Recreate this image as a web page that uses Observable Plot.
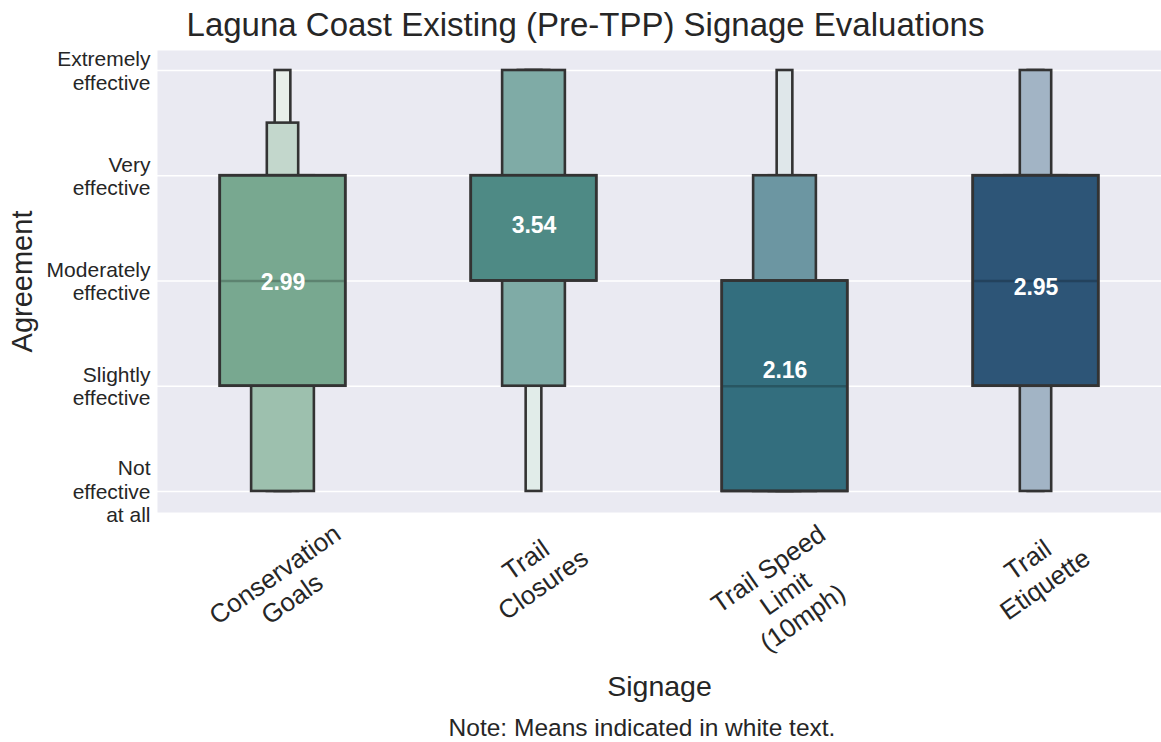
<!DOCTYPE html>
<html><head><meta charset="utf-8">
<script src="https://cdn.jsdelivr.net/npm/d3@7"></script>
<script src="https://cdn.jsdelivr.net/npm/@observablehq/plot@0.6"></script>
<style>
body{margin:0;background:#fff;font-family:"Liberation Sans",Arial,sans-serif;color:#262626;}
#wrap{position:relative;width:1161px;height:742px;overflow:hidden;}
#title{height:50px;line-height:50px;font-size:33px;text-align:center;padding-left:10px;box-sizing:border-box;white-space:nowrap;}
#chart svg{display:block;}
#caption{position:absolute;left:0;top:714px;width:1161px;padding-left:123px;box-sizing:border-box;text-align:center;font-size:24.5px;line-height:28px;white-space:nowrap;}
</style></head><body>
<div id="wrap">
<div id="title">Laguna Coast Existing (Pre-TPP) Signage Evaluations</div>
<div id="chart"></div>
<div id="caption">Note: Means indicated in white text.</div>
</div>
<script>
// ---- data ----
const signage = ["Conservation Goals", "Trail Closures", "Trail Speed Limit (10mph)", "Trail Etiquette"];
const signageLabels = ["Conservation\nGoals", "Trail\nClosures", "Trail Speed\nLimit\n(10mph)", "Trail\nEtiquette"];
const agreementTicks = [1, 2, 3, 4, 5];
const agreementLabels = ["Not\neffective\nat all", "Slightly\neffective", "Moderately\neffective", "Very\neffective", "Extremely\neffective"];
const means = [2.99, 3.54, 2.16, 2.95];
const medians = [3, 4, 2, 3];
// letter values per level (level 1 = quartiles, then 1/8, 1/16, 1/32 ...)
const lvLower = [[2, 1, 1, 1], [3, 2, 2, 1], [1, 1, 1, 1], [2, 2, 1, 1]];
const lvUpper = [[4, 4, 4.5, 5], [4, 5, 5, 5], [3, 4, 4, 5], [4, 4, 5, 5]];

// ---- styles ----
const baseColors = ["#78a890", "#4e8a85", "#336e7e", "#2d5577"];
const lightColors = ["#e8efea", "#e1ece9", "#dfe7ea", "#dde4ec"];
const textColor = "#262626";
const edgeColor = "#333333";

const W = 1161, H = 664, mL = 157, mR = 0, mT = 0, mB = 202;
const bw = (W - mL - mR) / signage.length;
const nLevels = 4;
const fullWidth = bw * 0.5;

const boxes = [];
signage.forEach((s, i) => lvLower[i].forEach((lo, k) => boxes.push({
  signage: s, level: k + 1, lower: lo, upper: lvUpper[i][k],
  color: d3.interpolateRgb(baseColors[i], lightColors[i])(k / (nLevels - 1))
})));
const insetFor = level => (bw - fullWidth / 2 ** (level - 1)) / 2;

const levelMarks = d3.range(nLevels, 0, -1).map(level => {
  const inset = insetFor(level);
  return Plot.barY(boxes.filter(d => d.level === level), {
    x: "signage", y1: "lower", y2: "upper", fill: "color",
    stroke: edgeColor, strokeWidth: 2.6, insetLeft: inset, insetRight: inset
  });
});

const stats = signage.map((s, i) => ({signage: s, mean: means[i], median: medians[i], i}));

const medianMark = Plot.tickY(stats, {
  x: "signage", y: "median", strokeWidth: 2.4,
  stroke: d => d3.color(baseColors[d.i]).darker(0.7).formatHex(),
  insetLeft: insetFor(1), insetRight: insetFor(1)
});
const outline1 = Plot.barY(boxes.filter(d => d.level === 1), {
  x: "signage", y1: "lower", y2: "upper", fill: "none",
  stroke: edgeColor, strokeWidth: 2.6, insetLeft: insetFor(1), insetRight: insetFor(1)
});
const meanText = Plot.text(stats, {
  x: "signage", y: "mean", text: d => d.mean.toFixed(2),
  fill: "white", fontWeight: "bold", fontSize: 23, dy: 1
});

// rotated x tick labels, centred like matplotlib (bbox centre under the tick)
const xFs = 26, xRot = 35, pad = 4;
const ctx = document.createElement("canvas").getContext("2d");
ctx.font = `${xFs}px "Liberation Sans"`;
const rad = xRot * Math.PI / 180;
const xLabelMarks = signage.map((s, i) => {
  const lines = signageLabels[i].split("\n");
  const w = d3.max(lines, l => ctx.measureText(l).width);
  const h = lines.length * xFs * 1.2;
  const bboxH = w * Math.sin(rad) + h * Math.cos(rad);
  return Plot.text([s], {
    x: d => d, text: () => signageLabels[i], frameAnchor: "bottom",
    dy: pad + bboxH / 2, rotate: -xRot, fontSize: xFs, lineHeight: 1.15,
    textAnchor: "middle", lineAnchor: "middle", fill: textColor
  });
});

const chart = Plot.plot({
  width: W, height: H,
  marginLeft: mL, marginRight: mR, marginTop: mT, marginBottom: mB,
  style: {fontFamily: "'Liberation Sans', Arial, sans-serif", color: textColor, background: "white", overflow: "visible"},
  x: {type: "band", domain: signage, padding: 0, axis: null},
  y: {domain: [0.8, 5.19], axis: null},
  color: {type: "identity"},
  marks: [
    Plot.frame({fill: "#eaeaf2", stroke: "none"}),
    Plot.gridY(agreementTicks, {stroke: "white", strokeOpacity: 1, strokeWidth: 1.6}),
    Plot.axisY(agreementTicks, {
      tickFormat: d => agreementLabels[agreementTicks.indexOf(d)],
      tickSize: 0, tickPadding: 7, fontSize: 21, lineHeight: 1.12, label: null, fill: textColor
    }),
    ...levelMarks,
    medianMark,
    outline1,
    meanText,
    ...xLabelMarks,
    Plot.text(["Agreement"], {frameAnchor: "left", dx: -135, rotate: -90, fontSize: 29, text: d => d, fill: textColor, textAnchor: "middle", lineAnchor: "middle"}),
    Plot.text(["Signage"], {frameAnchor: "bottom", dy: 174, fontSize: 28.5, text: d => d, fill: textColor, lineAnchor: "middle"})
  ]
});
document.getElementById("chart").appendChild(chart);
</script>
</body></html>
